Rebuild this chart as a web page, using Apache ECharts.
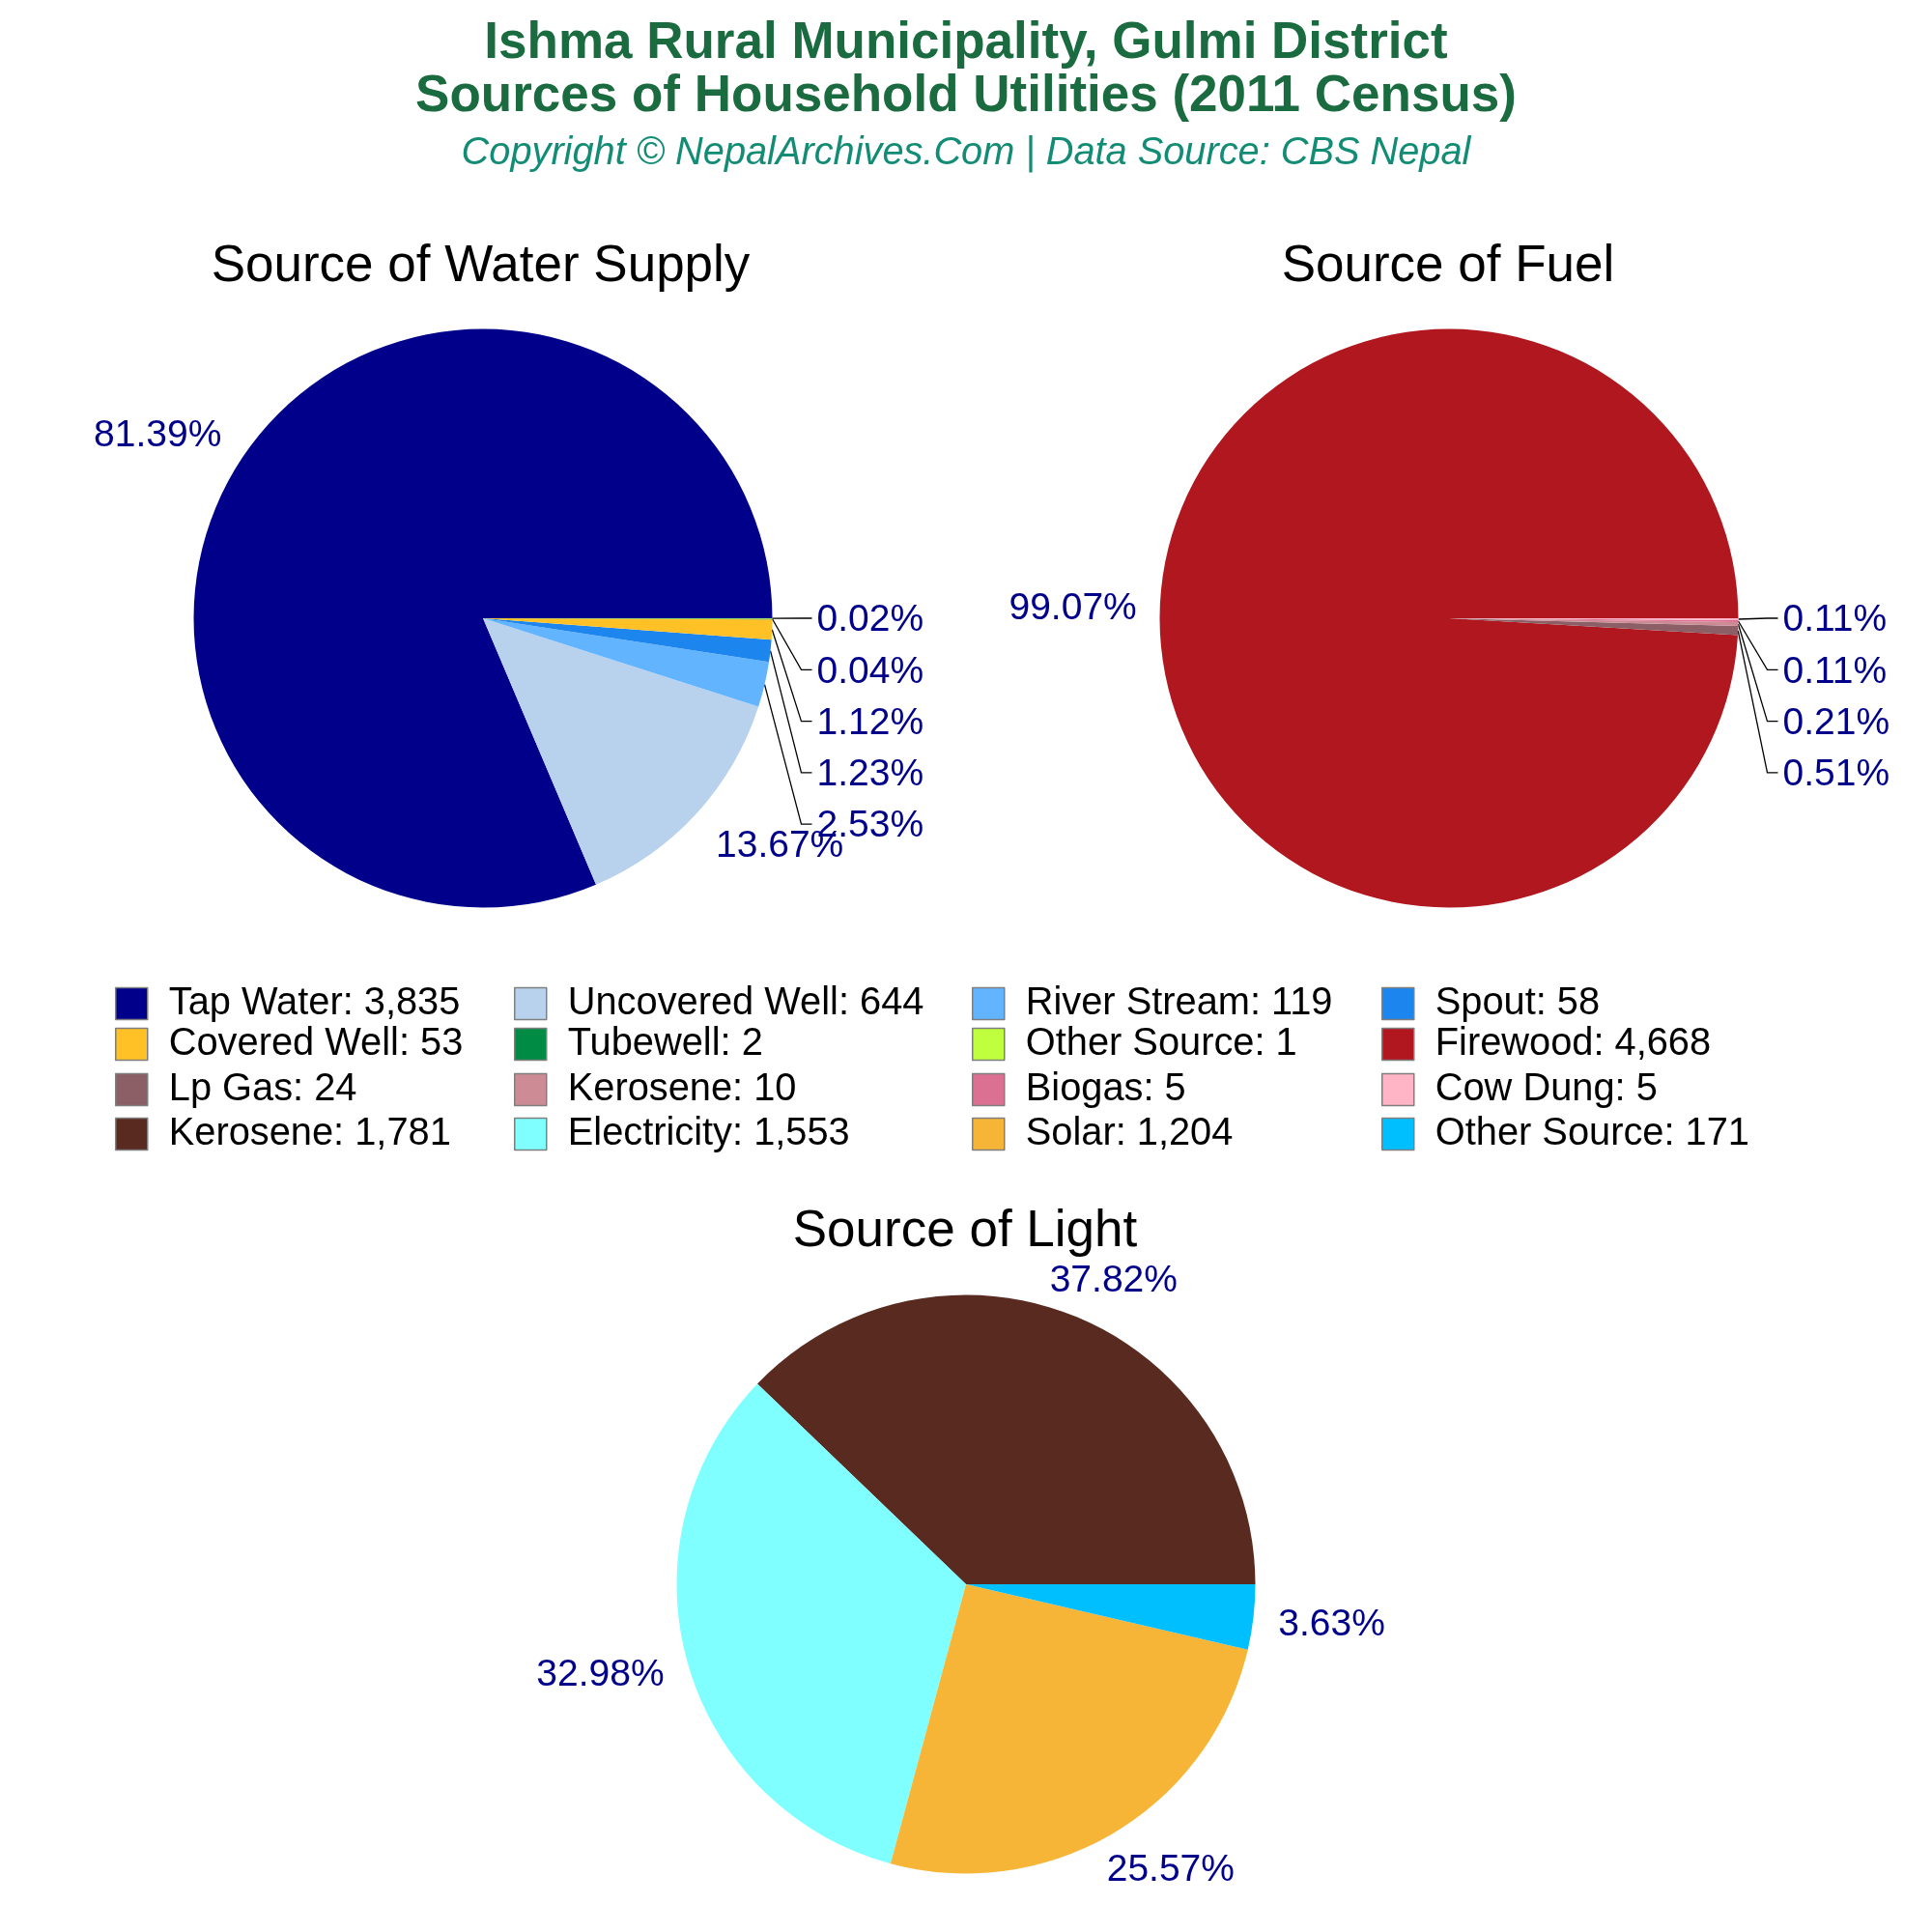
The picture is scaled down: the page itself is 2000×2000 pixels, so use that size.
<!DOCTYPE html>
<html><head><meta charset="utf-8">
<style>html,body{margin:0;padding:0;background:#fff}#c{width:2000px;height:2000px}</style>
<script src="https://cdn.jsdelivr.net/npm/echarts@6/dist/echarts.min.js"></script>
</head><body><div id="c"></div>
<script>
const waterCategories = ['Tap Water','Uncovered Well','River Stream','Spout','Covered Well','Tubewell','Other Source'];
const waterValues = [3835,644,119,58,53,2,1];
const waterColors = ['#00008B','#B8D2EE','#63B4FF','#1C86EE','#FFC125','#008B45','#C0FF3E'];
const fuelCategories = ['Firewood','Lp Gas','Kerosene','Biogas','Cow Dung'];
const fuelValues = [4668,24,10,5,5];
const fuelColors = ['#B0171F','#8B5F65','#CD8C95','#DB7093','#FFB5C5'];
const lightCategories = ['Kerosene','Electricity','Solar','Other Source'];
const lightValues = [1781,1553,1204,171];
const lightColors = ['#592A20','#7FFFFF','#F7B538','#00BFFF'];

const FONT = '"Liberation Sans", Arial, sans-serif';
const R = 299.5, LABEL_SIZE = 39;
const legendCols = [119, 532, 1006, 1430];
const legendRows = [1019, 1061, 1108, 1154];
// offsets of the large-slice labels from the slice's outer mid point
const bigOffsets = {0: {0:[-87,-23],1:[86,34]}, 1: {0:[-90,-1]}, 2: {0:[41,-36],1:[-90,14],2:[58,39],3:[81,8]}};

const pies = [
  {title:'Source of Water Supply', cats:waterCategories, vals:waterValues, cols:waterColors, c:[500,640], tx:497.5, ty:250},
  {title:'Source of Fuel', cats:fuelCategories, vals:fuelValues, cols:fuelColors, c:[1500,640], tx:1499, ty:250},
  {title:'Source of Light', cats:lightCategories, vals:lightValues, cols:lightColors, c:[1000,1640], tx:999, ty:1249}
];
const itemName = (cat, v) => cat + ': ' + v.toLocaleString('en-US');

function midPoint(p, i) {
  const total = p.vals.reduce((a,b)=>a+b,0);
  let before = 0;
  for (let k=0;k<i;k++) before += p.vals[k];
  const a = (before + p.vals[i]/2)/total*2*Math.PI;
  return [p.c[0]+R*Math.cos(a), p.c[1]-R*Math.sin(a)];
}

const series = pies.map((p, si) => {
  const total = p.vals.reduce((a,b)=>a+b,0);
  const isSmall = i => p.vals[i]/total < 0.03;
  return {
    type:'pie', center:p.c, radius:R, startAngle:0, clockwise:false,
    minAngle:0, minShowLabelAngle:0, avoidLabelOverlap:false, animation:false,
    silent:true,
    data:p.vals.map((v,i)=>({
      name:itemName(p.cats[i],v), value:v, itemStyle:{color:p.cols[i]},
      labelLine:{show:isSmall(i)}
    })),
    label:{show:true, position:'outside', color:'#00008B', fontFamily:FONT, fontSize:LABEL_SIZE,
      formatter:o=>(o.value/total*100).toFixed(2)+'%'},
    labelLine:{show:true, lineStyle:{color:'#000', width:1.3}},
    labelLayout:params=>{
      const i = params.dataIndex;
      const a = midPoint(p,i);
      if (isSmall(i)) {
        const row = p.vals.length-1-i;
        const y = p.c[1]+row*53.3;
        const ex = p.c[0]+R;
        return {x:ex+46, y:y+2.5, align:'left', verticalAlign:'middle', hideOverlap:false, moveOverlap:false,
          labelLinePoints:[[a[0],a[1]],[ex+30,y],[ex+41,y]]};
      }
      const o = bigOffsets[si][i];
      return {x:a[0]+o[0], y:a[1]+o[1], align:'center', verticalAlign:'middle', hideOverlap:false};
    }
  };
});

const allNames = [];
pies.forEach(p=>p.vals.forEach((v,i)=>allNames.push(itemName(p.cats[i],v))));
const legends = allNames.map((n,i)=>({
  show:true, orient:'horizontal', left:legendCols[i%4], top:legendRows[Math.floor(i/4)],
  padding:0, data:[n], icon:'rect', itemWidth:33, itemHeight:33, selectedMode:false,
  itemStyle:{borderColor:'#7F7F7F', borderWidth:1.5},
  textStyle:{fontFamily:FONT, fontSize:39.8, color:'#000', padding:[0,0,0,17]}
}));

const titles = [
  {text:'Ishma Rural Municipality, Gulmi District\nSources of Household Utilities (2011 Census)',
   left:1000, top:18, textAlign:'center', padding:0,
   textStyle:{fontFamily:FONT, fontSize:53, fontWeight:'bold', color:'#1A6B3F', lineHeight:55}},
  {text:'Copyright © NepalArchives.Com | Data Source: CBS Nepal',
   left:1000, top:139, textAlign:'center', padding:0,
   textStyle:{fontFamily:FONT, fontSize:39.75, fontStyle:'italic', fontWeight:'normal', color:'#128C74'}}
].concat(pies.map(p=>({text:p.title, left:p.tx, top:p.ty, textAlign:'center', padding:0,
   textStyle:{fontFamily:FONT, fontSize:53, fontWeight:'normal', color:'#000'}})));

const chart = echarts.init(document.getElementById('c'), null, {renderer:'canvas', width:2000, height:2000});
chart.setOption({backgroundColor:'#fff', animation:false, title:titles, legend:legends, series:series, tooltip:{show:false}});
</script></body></html>
